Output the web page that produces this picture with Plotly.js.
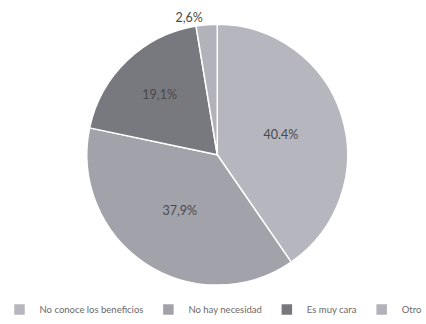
<!DOCTYPE html>
<html>
<head>
<meta charset="utf-8">
<script src="https://cdn.plot.ly/plotly-3.0.1.min.js"></script>
<style>html,body{margin:0;padding:0;background:#fff;}#chart{width:426px;height:324px;}</style>
</head>
<body>
<div id="chart"></div>
<script>
const categories = ["No conoce los beneficios", "No hay necesidad", "Es muy cara", "Otro"];
const values = [40.4, 37.9, 19.1, 2.6];
const valueLabels = ["40.4%", "37,9%", "19,1%", "2,6%"];
const colors = ["#b6b6be", "#a2a2aa", "#78787f", "#b2b2ba"];

const trace = {
  type: "pie",
  labels: categories,
  values: values,
  text: valueLabels,
  textinfo: "text",
  hoverinfo: "label+text",
  textposition: ["inside", "inside", "inside", "outside"],
  insidetextorientation: "horizontal",
  sort: false,
  direction: "clockwise",
  rotation: 0,
  marker: { colors: colors, line: { color: "#ffffff", width: 1.5 } },
  textfont: { family: "Lato, 'DejaVu Sans', sans-serif", size: 12.5, color: "#4a4a4a" },
  outsidetextfont: { family: "Lato, 'DejaVu Sans', sans-serif", size: 12.5, color: "#4a4a4a" },
  domain: { x: [0.2, 0.82], y: [0.12, 0.925] }
};

const layout = {
  width: 426, height: 324,
  margin: { l: 0, r: 0, t: 0, b: 0 },
  paper_bgcolor: "#ffffff",
  showlegend: true,
  legend: {
    orientation: "h", x: 0.5, xanchor: "center", y: 0.0, yanchor: "bottom",
    font: { family: "Lato, 'DejaVu Sans', sans-serif", size: 9.5, color: "#6a6a6a" },
    itemwidth: 30, tracegroupgap: 0
  }
};

Plotly.newPlot("chart", [trace], layout, { displayModeBar: false, staticPlot: true });
</script>
</body>
</html>
